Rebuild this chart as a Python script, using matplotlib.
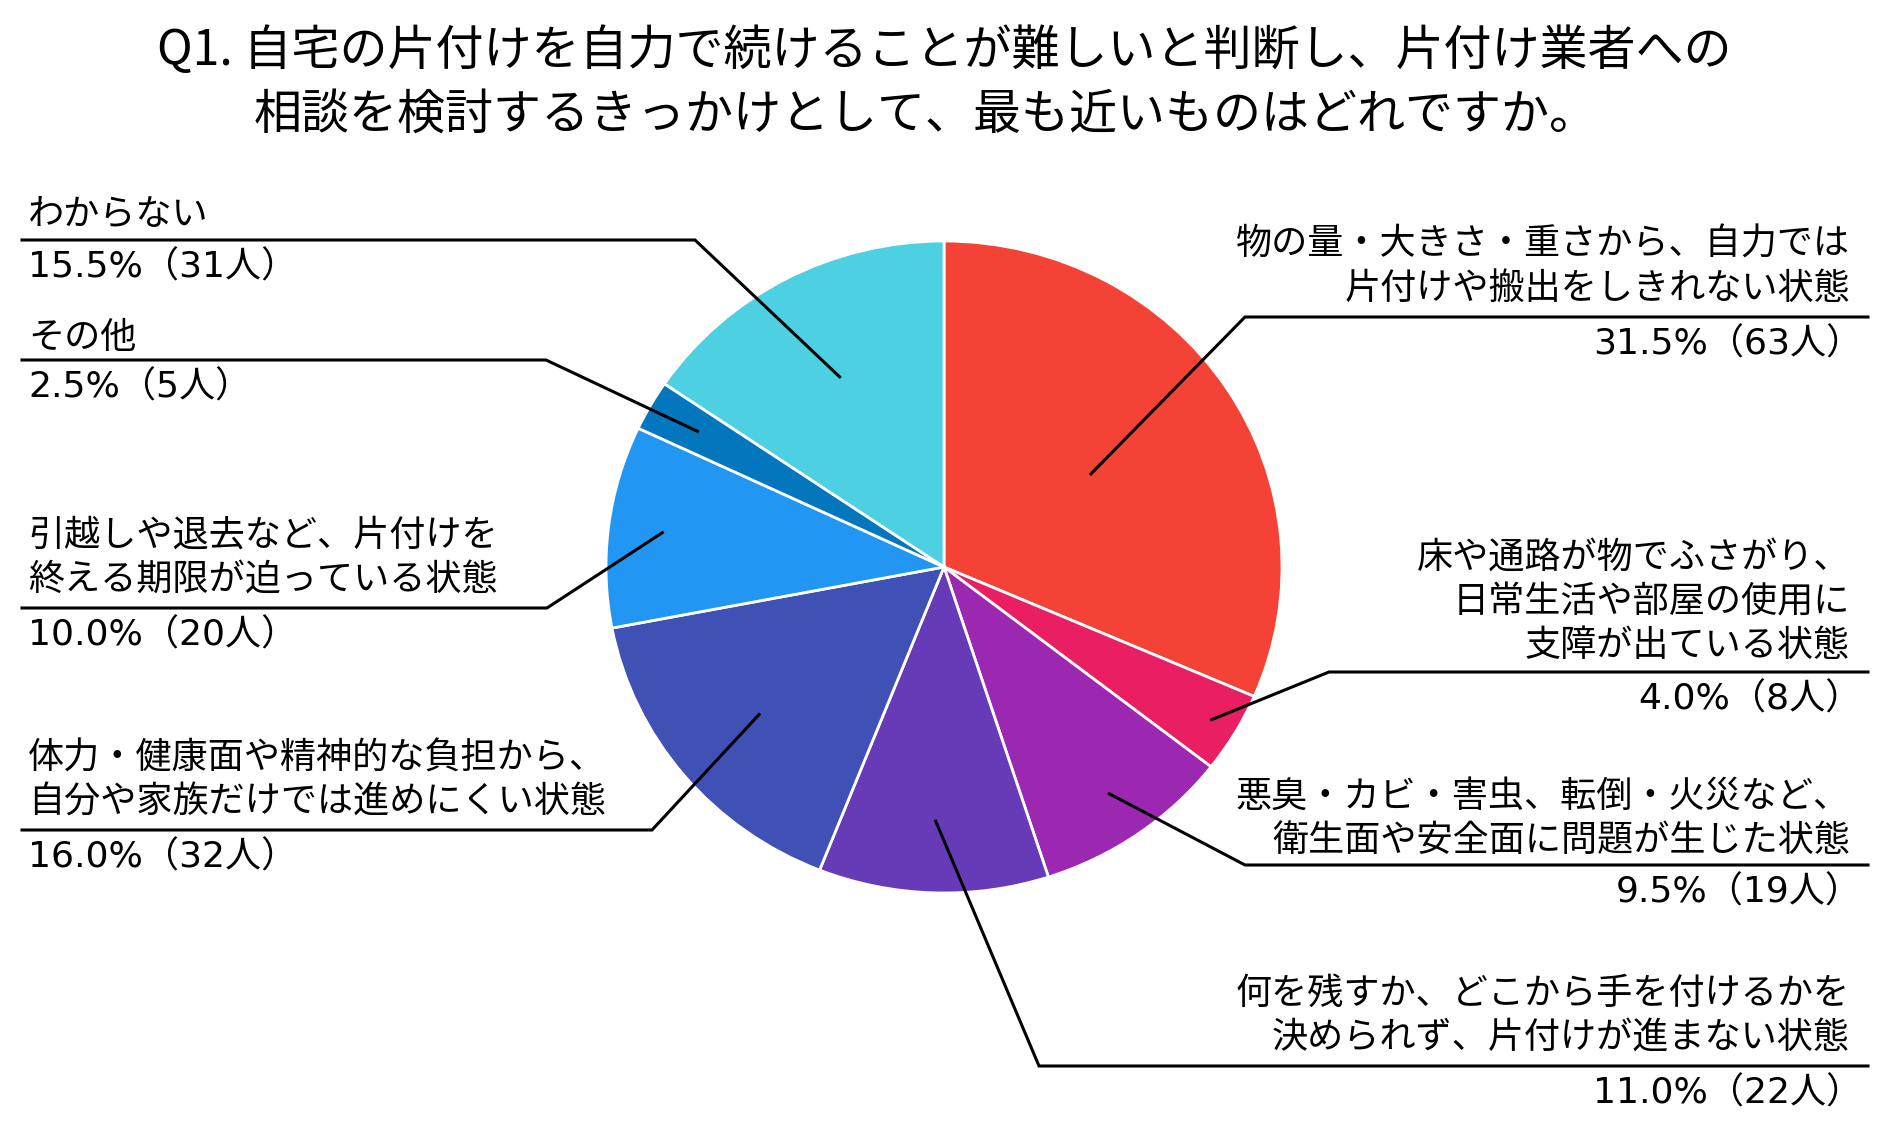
import numpy as np
import matplotlib
matplotlib.use("Agg")
import matplotlib.pyplot as plt

plt.rcParams['font.family'] = ['Noto Sans CJK JP', 'DejaVu Sans']

W, H = 1885, 1126

# survey answers, clockwise from 12 o'clock
categories = [
    ["物の量・大きさ・重さから、自力では", "片付けや搬出をしきれない状態"],
    ["床や通路が物でふさがり、", "日常生活や部屋の使用に", "支障が出ている状態"],
    ["悪臭・カビ・害虫、転倒・火災など、", "衛生面や安全面に問題が生じた状態"],
    ["何を残すか、どこから手を付けるかを", "決められず、片付けが進まない状態"],
    ["体力・健康面や精神的な負担から、", "自分や家族だけでは進めにくい状態"],
    ["引越しや退去など、片付けを", "終える期限が迫っている状態"],
    ["その他"],
    ["わからない"],
]
percents = [31.5, 4.0, 9.5, 11.0, 16.0, 10.0, 2.5, 15.5]
counts = [63, 8, 19, 22, 32, 20, 5, 31]
colors = ['#F44336', '#E91E63', '#9C27B0', '#673AB7',
          '#3F51B5', '#2196F3', '#0277BD', '#4DD0E1']

title_lines = ["Q1. 自宅の片付けを自力で続けることが難しいと判断し、片付け業者への",
               "相談を検討するきっかけとして、最も近いものはどれですか。"]

# layout (pixels from top of image); the pie in the original is slightly squashed
cx, cy = 944, 567
rx, ry = 338, 326
# side, first text line y, underline y, underline bend x, leader radius fraction
layout = [
    ('r', 245, 317, 1245, 0.52),
    ('r', 558, 672, 1329, 0.92),
    ('r', 797, 865, 1245, 0.85),
    ('r', 994, 1066, 1039, 0.78),
    ('l', 759, 830, 652, 0.71),
    ('l', 536, 608, 547, 0.84),
    ('l', 338, 360, 546, 0.84),
    ('l', 215, 240, 695, 0.66),
]
line_gap = 44
fs = 26


def Y(y):
    return H - y


fig = plt.figure(figsize=(W / 100, H / 100), dpi=100)
ax = fig.add_axes([0, 0, 1, 1])
ax.set_xlim(0, W)
ax.set_ylim(0, H)
ax.axis('off')
ax.set_zorder(2)

ax_pie = fig.add_axes([(cx - rx) / W, (H - cy - ry) / H, 2 * rx / W, 2 * ry / H])
wedges, _ = ax_pie.pie(percents, colors=colors, startangle=90, counterclock=False,
                       radius=1, frame=True,
                       wedgeprops=dict(edgecolor='white', linewidth=2))
ax_pie.set_xlim(-1, 1)
ax_pie.set_ylim(-1, 1)
ax_pie.set_aspect('auto')
ax_pie.axis('off')

to_main = ax_pie.transData + ax.transData.inverted()

ax.text(157, Y(51), title_lines[0], fontsize=34.6, ha='left', va='center')
ax.text(254, Y(115), title_lines[1], fontsize=34.6, ha='left', va='center')

for w, lines, pct, n, (side, y0, yl, xl, rf) in zip(wedges, categories, percents, counts, layout):
    mid = np.deg2rad((w.theta1 + w.theta2) / 2)
    px, py = to_main.transform((rf * np.cos(mid), rf * np.sin(mid)))
    if side == 'r':
        tx, tv, ha, xend = 1850, 1862, 'right', 1868
    else:
        tx, tv, ha, xend = 28, 28, 'left', 22
    ax.plot([px, xl, xend], [py, Y(yl), Y(yl)], color='black', lw=2.2,
            solid_joinstyle='miter')
    for i, s in enumerate(lines):
        ax.text(tx, Y(y0 + i * line_gap), s, fontsize=fs, ha=ha, va='center')
    ax.text(tv, Y(yl + 27), f"{pct:.1f}%（{n}人）", fontsize=fs, ha=ha, va='center',
            family=['DejaVu Sans', 'Noto Sans CJK JP'])

fig.savefig('out.png', dpi=100)
